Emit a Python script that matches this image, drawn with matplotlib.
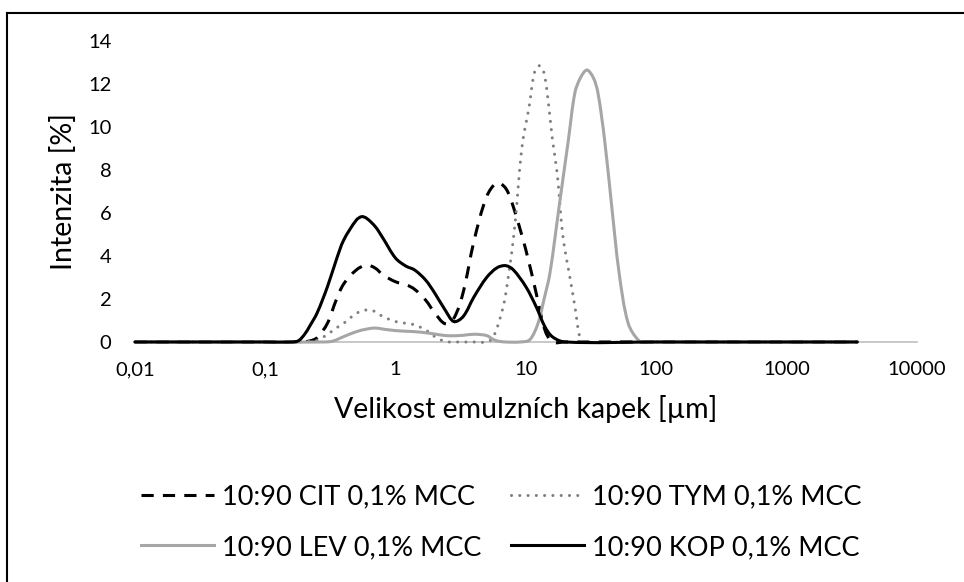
import matplotlib
matplotlib.use("Agg")
import matplotlib.pyplot as plt
import numpy as np
from matplotlib.path import Path
from matplotlib.patches import PathPatch
from matplotlib.lines import Line2D

plt.rcParams["font.family"] = ["Lato", "DejaVu Sans"]

# droplet size (um) and intensity (%)
cit_x = [0.01, 0.1, 0.18, 0.22, 0.25, 0.3, 0.35, 0.4, 0.5, 0.6, 0.7, 0.8, 1.0, 1.2,
         1.4, 1.7, 2.0, 2.4, 2.8, 3.3, 4.0, 5.0, 6.0, 7.0, 8.0, 10, 12, 14, 16, 20,
         100, 1000, 3500]
cit_y = [0, 0, 0, 0.05, 0.2, 0.87, 1.95, 2.7, 3.35, 3.58, 3.43, 3.12, 2.8, 2.67,
         2.45, 1.95, 1.35, 0.85, 1.1, 2.3, 4.7, 6.76, 7.4, 7.15, 6.3, 4.28, 2.27,
         0.56, 0, 0, 0, 0, 0]

tym_x = [0.01, 0.1, 0.2, 0.25, 0.3, 0.35, 0.4, 0.5, 0.6, 0.7, 0.8, 1.0, 1.2, 1.4,
         1.7, 2.0, 2.4, 2.8, 4.0, 5.0, 5.6, 6.7, 7.4, 8.0, 8.5, 8.9, 9.5, 10.6, 11.6,
         12.7, 13.8, 15.0, 16.0, 17.4, 18.3, 19.4, 21.5, 23.8, 26, 28, 100, 1000, 3500]
tym_y = [0, 0, 0, 0.08, 0.35, 0.65, 0.87, 1.33, 1.49, 1.41, 1.18, 0.95, 0.87, 0.8,
         0.56, 0.25, 0.02, 0, 0, 0, 0.2, 1.64, 3.2, 4.74, 6.3, 7.84, 9.4, 10.95, 12.5,
         12.85, 12.5, 10.95, 9.4, 7.84, 6.3, 4.74, 3.2, 1.64, 0.2, 0, 0, 0, 0]

lev_x = [0.01, 0.1, 0.28, 0.33, 0.4, 0.5, 0.6, 0.7, 0.8, 1.0, 1.2, 1.4, 1.7, 2.0,
         2.4, 2.8, 3.3, 4.0, 5.0, 5.5, 6.0, 7.0, 9.0, 10.7, 12.4, 13.8, 15.3, 18,
         21.2, 23.8, 26.3, 29.4, 32.9, 35.7, 40.2, 45.6, 52, 61, 74, 85, 1000, 3500]
lev_y = [0, 0, 0, 0.04, 0.25, 0.48, 0.6, 0.65, 0.6, 0.53, 0.5, 0.48, 0.43, 0.37,
         0.3, 0.29, 0.31, 0.36, 0.3, 0.15, 0.05, 0, 0, 0.1, 0.87, 2.0, 3.2, 6.3,
         9.4, 11.6, 12.3, 12.65, 12.3, 11.6, 9.4, 6.3, 3.2, 0.87, 0.05, 0, 0, 0]

kop_x = [0.01, 0.1, 0.16, 0.18, 0.2, 0.22, 0.25, 0.3, 0.35, 0.4, 0.5, 0.55, 0.6,
         0.7, 0.8, 1.0, 1.2, 1.4, 1.7, 2.0, 2.4, 2.8, 3.3, 4.0, 5.0, 6.0, 7.0, 8.0,
         10, 12, 14, 16, 20, 100, 1000, 3500]
kop_y = [0, 0, 0, 0.06, 0.35, 0.75, 1.35, 2.57, 3.8, 4.74, 5.67, 5.83, 5.75, 5.36,
         4.83, 3.9, 3.53, 3.35, 2.88, 2.27, 1.49, 0.95, 1.18, 2.1, 3.0, 3.45, 3.55,
         3.36, 2.57, 1.64, 0.71, 0.24, 0, 0, 0, 0]

labels = ["10:90 CIT 0,1% MCC", "10:90 TYM 0,1% MCC",
          "10:90 LEV 0,1% MCC", "10:90 KOP 0,1% MCC"]
xticks = [0.01, 0.1, 1, 10, 100, 1000, 10000]
xtick_labels = ["0,01", "0,1", "1", "10", "100", "1000", "10000"]
yticks = [0, 2, 4, 6, 8, 10, 12, 14]


def smooth_path(ax, xs, ys):
    # Excel-like smoothed line: cubic Bezier through the points, built in display space
    pts = ax.transData.transform(np.column_stack([xs, ys]))
    n = len(pts)
    verts = [pts[0]]
    codes = [Path.MOVETO]
    for i in range(n - 1):
        p0 = pts[i - 1] if i > 0 else pts[i]
        p1 = pts[i]
        p2 = pts[i + 1]
        p3 = pts[i + 2] if i + 2 < n else pts[i + 1]
        d0 = np.hypot(*(p1 - p0))
        d1 = np.hypot(*(p2 - p1))
        d2 = np.hypot(*(p3 - p2))
        c1 = p1 + (p2 - p0) * (d1 / (d0 + d1) / 3 if d0 + d1 > 0 else 0)
        c2 = p2 - (p3 - p1) * (d1 / (d1 + d2) / 3 if d1 + d2 > 0 else 0)
        verts += [c1, c2, p2]
        codes += [Path.CURVE4] * 3
    verts = ax.transData.inverted().transform(np.array(verts))
    return Path(verts, codes)


fig = plt.figure(figsize=(9.64, 5.82), dpi=100)
ax = fig.add_axes([0.140, 0.4124, 0.811, 0.5172])
ax.set_xscale("log")
ax.set_xlim(0.01, 10000)
ax.set_ylim(0, 14)

styles = [
    dict(color="black", linestyle=(0, (4, 3)), capstyle="butt"),
    dict(color="#7f7f7f", linestyle=(0, (0.01, 2.7)), capstyle="round"),
    dict(color="#a6a6a6", linestyle="solid", capstyle="round"),
    dict(color="black", linestyle="solid", capstyle="round"),
]
series = [(cit_x, cit_y), (tym_x, tym_y), (lev_x, lev_y), (kop_x, kop_y)]

handles = []
for (xs, ys), st, lab in zip(series, styles, labels):
    patch = PathPatch(smooth_path(ax, xs, ys), fill=False, edgecolor=st["color"],
                      linewidth=2.2, linestyle=st["linestyle"], zorder=3)
    patch.set_capstyle(st["capstyle"])
    patch.set_joinstyle("round")
    patch.set_clip_on(False)
    ax.add_patch(patch)
    handles.append(Line2D([], [], color=st["color"], linewidth=2.2,
                          linestyle=st["linestyle"],
                          dash_capstyle=st["capstyle"], label=lab))

for s in ["top", "right", "left"]:
    ax.spines[s].set_visible(False)
ax.spines["bottom"].set_color("#bfbfbf")
ax.spines["bottom"].set_linewidth(1.2)
ax.spines["bottom"].set_zorder(1)

ax.set_xticks(xticks)
ax.set_xticklabels(xtick_labels)
ax.xaxis.set_minor_locator(matplotlib.ticker.NullLocator())
ax.set_yticks(yticks)
ax.tick_params(axis="both", length=0, labelsize=14.5)
ax.tick_params(axis="x", pad=14)
ax.tick_params(axis="y", pad=17)

ax.set_xlabel("Velikost emulzních kapek [µm]", fontsize=20.5, labelpad=12)
ax.set_ylabel("Intenzita [%]", fontsize=20.5, labelpad=8)

order = [0, 2, 1, 3]
fig.legend([handles[i] for i in order], [labels[i] for i in order],
           loc="center", bbox_to_anchor=(0.52, 0.103), ncol=2, frameon=False,
           fontsize=19.5, handlelength=2.7, handletextpad=0.3,
           columnspacing=1.1, labelspacing=0.95)

# outer chart border (left and top edges visible in the crop)
fig.add_artist(Line2D([0.0075, 0.0075], [0, 0.978], color="black", linewidth=1.5,
                      transform=fig.transFigure))
fig.add_artist(Line2D([0.0075, 1], [0.978, 0.978], color="black", linewidth=1.5,
                      transform=fig.transFigure))

fig.savefig("out.png", dpi=100)
